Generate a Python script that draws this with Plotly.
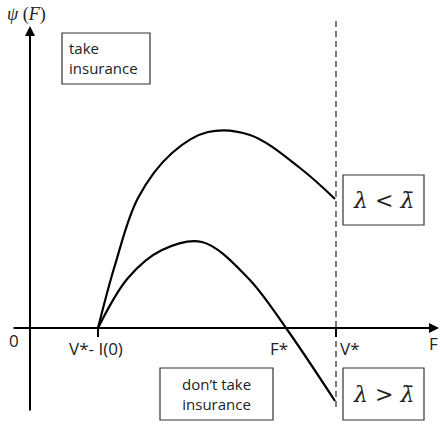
import plotly.graph_objects as go

# Curve samples (F, psi) in chart units
f_upper = [68, 85, 108, 142, 178, 220, 270, 305]
psi_upper = [0, 63, 130, 175, 196, 193, 160, 129]
f_lower = [68, 98, 132, 172, 218, 256, 305]
psi_lower = [0, 50, 78, 86, 50, 0, -73]

v_star = 306
v_minus_i0 = 68

tick_labels = ["0", "V*- I(0)", "F*", "V*", "F"]
tick_pos = [-16, 66, 249, 320, 410]

fig = go.Figure()
fig.add_trace(go.Scatter(x=f_upper, y=psi_upper, mode="lines",
                         line=dict(color="black", width=2.2, shape="spline", smoothing=1.0), hoverinfo="skip"))
fig.add_trace(go.Scatter(x=f_lower, y=psi_lower, mode="lines",
                         line=dict(color="black", width=2.2, shape="spline", smoothing=1.0), hoverinfo="skip"))

# dashed vertical at V*
fig.add_shape(type="line", x0=v_star, x1=v_star, y0=-79, y1=310, line=dict(color="#333", width=1.3, dash="6px,4px"))

# axes with arrows
fig.add_annotation(x=0, y=302, ax=0, ay=-84, xref="x", yref="y", axref="x", ayref="y",
                   showarrow=True, arrowhead=2, arrowsize=1, arrowwidth=2, arrowcolor="black", text="")
fig.add_annotation(x=409, y=0, ax=-18, ay=0, xref="x", yref="y", axref="x", ayref="y",
                   showarrow=True, arrowhead=2, arrowsize=1, arrowwidth=2, arrowcolor="black", text="")

# tick marks
for xv in [v_minus_i0, v_star]:
    fig.add_shape(type="line", x0=xv, x1=xv, y0=0, y1=-9, line=dict(color="black", width=2))

tfont = dict(family="Open Sans, Liberation Sans, sans-serif", size=17, color="#222")
font = dict(family="Open Sans, Liberation Sans, sans-serif", size=15, color="#222")
for t, xp in zip(tick_labels, tick_pos):
    if t == "F":
        fig.add_annotation(x=xp, y=-15, text=t, showarrow=False, font=tfont, xanchor="right")
    elif t == "0":
        fig.add_annotation(x=xp, y=-12, text=t, showarrow=False, font=tfont)
    else:
        fig.add_annotation(x=xp, y=-20, text=t, showarrow=False, font=tfont)

# y label
fig.add_annotation(x=-25, y=314, text="<i>ψ</i> (<i>F</i>)", showarrow=False, xanchor="left",
                   font=dict(family="Liberation Serif, serif", size=18, color="#222"))

# boxes
def box(x0, x1, y0, y1):
    fig.add_shape(type="rect", x0=x0, x1=x1, y0=y0, y1=y1, line=dict(color="#333", width=1.2), fillcolor="white")

box(32, 120, 244, 295)
fig.add_annotation(x=37, y=270, text="take<br>insurance", showarrow=False, xanchor="left", align="left", font=font)
box(130, 243, -92, -40)
fig.add_annotation(x=186.5, y=-66, text="don’t take<br>insurance", showarrow=False, align="center", font=font)
box(313, 394, 103, 153)
lam_font = dict(family="DejaVu Serif, serif", size=22, color="#222")
fig.add_annotation(x=353.5, y=128, text="<i>λ</i> &lt; <i>λ̄</i>", showarrow=False, font=lam_font)
box(313, 394, -92, -40)
fig.add_annotation(x=353.5, y=-66, text="<i>λ</i> &gt; <i>λ̄</i>", showarrow=False, font=lam_font)

fig.update_layout(width=440, height=428, margin=dict(l=0, r=0, t=0, b=0),
                  plot_bgcolor="white", paper_bgcolor="white", showlegend=False,
                  xaxis=dict(range=[-30, 410], visible=False, fixedrange=True),
                  yaxis=dict(range=[-100, 328], visible=False, fixedrange=True))
fig.write_html("out.html", config={"displayModeBar": False},
               post_script="document.body.style.margin='0';document.body.style.overflow='hidden';")
